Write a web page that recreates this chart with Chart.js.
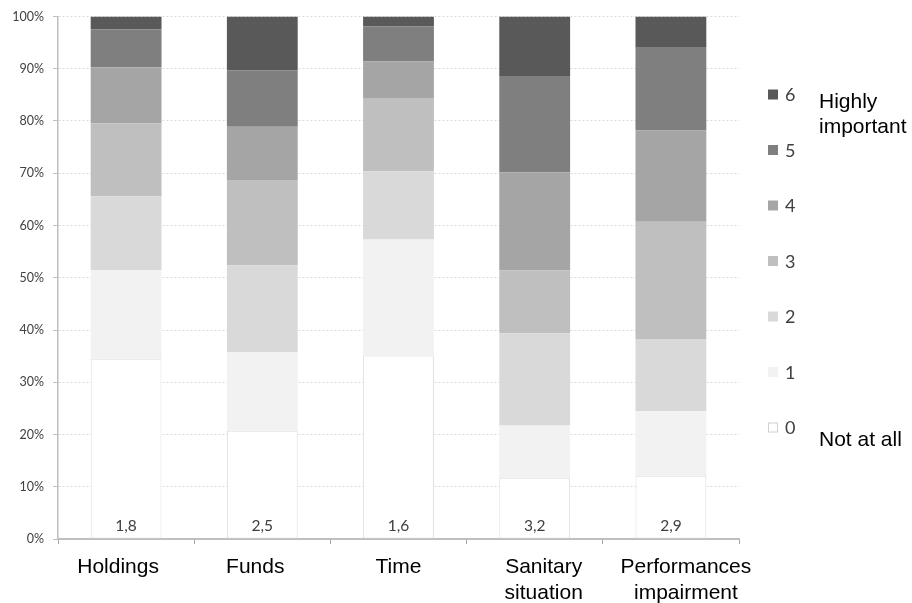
<!DOCTYPE html>
<html>
<head>
<meta charset="utf-8">
<script src="https://cdn.jsdelivr.net/npm/chart.js@4/dist/chart.umd.min.js"></script>
<style>
  html, body { margin: 0; padding: 0; background: #fff; }
  #wrap { width: 912px; height: 603px; }
</style>
</head>
<body>
<div id="wrap"><canvas id="c" width="912" height="603"></canvas></div>
<script>
// ---- data ----
const categories = [['Holdings'], ['Funds'], ['Time'], ['Sanitary', 'situation'], ['Performances', 'impairment']];
const levels = ['0', '1', '2', '3', '4', '5', '6'];
const level0 = [34.5, 20.7, 35.1, 11.7, 12.1];
const level1 = [17.0, 15.1, 22.2, 10.0, 12.4];
const level2 = [14.1, 16.6, 13.1, 17.7, 13.8];
const level3 = [13.9, 16.3, 14.0, 12.0, 22.4];
const level4 = [10.8, 10.2, 7.0, 18.8, 17.5];
const level5 = [7.2, 10.8, 6.7, 18.4, 15.8];
const level6 = [2.5, 10.3, 1.9, 11.4, 6.0];
const meanScores = ['1,8', '2,5', '1,6', '3,2', '2,9'];
const yTicks = [0, 10, 20, 30, 40, 50, 60, 70, 80, 90, 100];
const topNote = ['Highly', 'important'];
const bottomNote = ['Not at all'];

const seriesValues = [level0, level1, level2, level3, level4, level5, level6];
const fills = ['#ffffff', '#f2f2f2', '#d9d9d9', '#bfbfbf', '#a5a5a5', '#7f7f7f', '#595959'];
// horizontal nudges of the category captions (layout only)
const captionShift = [-8, -7, 0, 9, 15];

const datasets = seriesValues.map((vals, i) => ({
  label: levels[i],
  data: vals,
  backgroundColor: fills[i],
  borderColor: i === 0 ? '#dedede' : fills[i],
  borderWidth: i === 0 ? 1 : 0,
  borderSkipped: false,
  categoryPercentage: 1.0,
  barPercentage: 0.52
}));

const overlay = {
  id: 'overlay',
  afterDatasetsDraw(chart) {
    const ctx = chart.ctx;
    const meta0 = chart.getDatasetMeta(0);
    const xScale = chart.scales.x;
    const yScale = chart.scales.y;
    ctx.save();
    // mean score labels at bottom of each bar
    ctx.font = '15.5px Lato';
    ctx.fillStyle = '#404040';
    ctx.textAlign = 'center';
    ctx.textBaseline = 'alphabetic';
    meta0.data.forEach((bar, i) => {
      ctx.fillText(meanScores[i], bar.x, yScale.getPixelForValue(0) - 8);
    });
    // category captions
    ctx.font = '21px "Liberation Sans", Arial';
    ctx.fillStyle = '#000';
    ctx.textBaseline = 'middle';
    categories.forEach((lines, i) => {
      const cx = xScale.getPixelForValue(i) + captionShift[i];
      lines.forEach((t, j) => ctx.fillText(t, cx, yScale.getPixelForValue(0) + 28 + j * 26));
    });
    // legend (top: 6 ... bottom: 0)
    const legX = 768, legTop = 94.5, legStep = 55.5;
    ctx.textAlign = 'left';
    ctx.textBaseline = 'middle';
    ctx.font = '18px Lato';
    for (let k = 0; k < levels.length; k++) {
      const idx = levels.length - 1 - k;
      const cy = legTop + k * legStep;
      ctx.fillStyle = fills[idx];
      ctx.fillRect(legX, cy - 5, 10, 10);
      if (idx === 0) {
        ctx.strokeStyle = '#d0d0d0';
        ctx.lineWidth = 1;
        ctx.strokeRect(legX + 0.5, cy - 4.5, 9, 9);
      }
      ctx.fillStyle = '#404040';
      ctx.fillText(levels[idx], legX + 17, cy + 1);
    }
    // side notes
    ctx.font = '21px "Liberation Sans", Arial';
    ctx.fillStyle = '#000';
    ctx.textBaseline = 'alphabetic';
    topNote.forEach((t, i) => ctx.fillText(t, 819, 108 + i * 25));
    bottomNote.forEach((t, i) => ctx.fillText(t, 819, 446 + i * 25));
    ctx.restore();
  }
};

new Chart(document.getElementById('c'), {
  type: 'bar',
  data: { labels: categories, datasets },
  options: {
    responsive: false,
    animation: false,
    devicePixelRatio: 1,
    layout: { padding: { left: 0, right: 173, top: 15, bottom: 0 } },
    plugins: { legend: { display: false }, tooltip: { enabled: false } },
    scales: {
      x: {
        stacked: true,
        offset: true,
        grid: { display: true, drawOnChartArea: false, drawTicks: true, tickLength: 5, offset: true, color: '#a6a6a6', tickColor: '#a6a6a6' },
        border: { display: true, color: '#bfbfbf', width: 2 },
        ticks: { display: false },
        afterFit(scale) { scale.height = 64; }
      },
      y: {
        stacked: true,
        min: 0,
        max: 100,
        afterBuildTicks(scale) { scale.ticks = yTicks.map(v => ({ value: v })); },
        grid: { color: '#dadada', lineWidth: 1, tickLength: 5, tickColor: '#bfbfbf', tickBorderDash: [] },
        border: { display: true, color: '#bfbfbf', width: 1.5, dash: [2, 2] },
        ticks: { color: '#404040', font: { family: 'Lato', size: 12.5 }, padding: 9, callback: v => v + '%' },
        afterFit(scale) { scale.width = 58; }
      }
    }
  },
  plugins: [overlay]
});
</script>
</body>
</html>
